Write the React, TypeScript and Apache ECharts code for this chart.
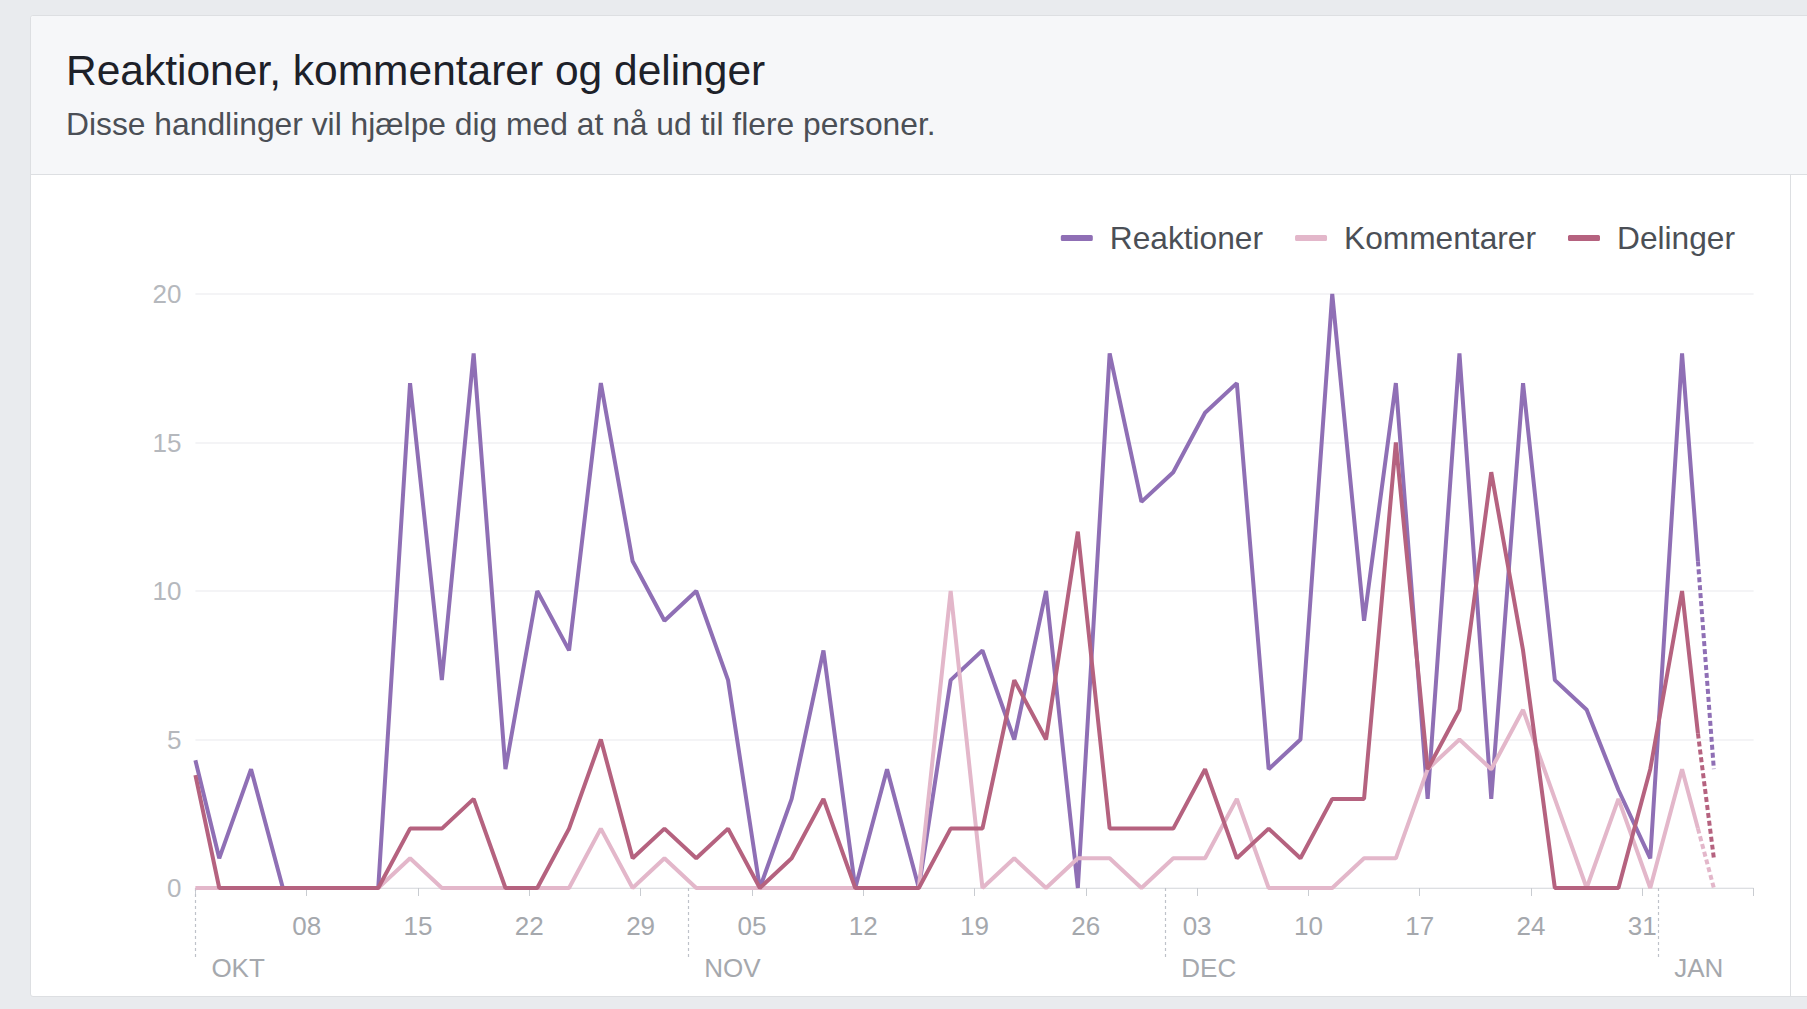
import React, { useEffect, useRef } from "react";
import * as echarts from "echarts";

// ---- data ----
const pointDates = [
  "2018-10-01T00:00:00Z", "2018-10-02T12:00:00Z", "2018-10-04T12:00:00Z", "2018-10-06T12:00:00Z",
  "2018-10-08T12:00:00Z", "2018-10-10T12:00:00Z", "2018-10-12T12:00:00Z", "2018-10-14T12:00:00Z",
  "2018-10-16T12:00:00Z", "2018-10-18T12:00:00Z", "2018-10-20T12:00:00Z", "2018-10-22T12:00:00Z",
  "2018-10-24T12:00:00Z", "2018-10-26T12:00:00Z", "2018-10-28T12:00:00Z", "2018-10-30T12:00:00Z",
  "2018-11-01T12:00:00Z", "2018-11-03T12:00:00Z", "2018-11-05T12:00:00Z", "2018-11-07T12:00:00Z",
  "2018-11-09T12:00:00Z", "2018-11-11T12:00:00Z", "2018-11-13T12:00:00Z", "2018-11-15T12:00:00Z",
  "2018-11-17T12:00:00Z", "2018-11-19T12:00:00Z", "2018-11-21T12:00:00Z", "2018-11-23T12:00:00Z",
  "2018-11-25T12:00:00Z", "2018-11-27T12:00:00Z", "2018-11-29T12:00:00Z", "2018-12-01T12:00:00Z",
  "2018-12-03T12:00:00Z", "2018-12-05T12:00:00Z", "2018-12-07T12:00:00Z", "2018-12-09T12:00:00Z",
  "2018-12-11T12:00:00Z", "2018-12-13T12:00:00Z", "2018-12-15T12:00:00Z", "2018-12-17T12:00:00Z",
  "2018-12-19T12:00:00Z", "2018-12-21T12:00:00Z", "2018-12-23T12:00:00Z", "2018-12-25T12:00:00Z",
  "2018-12-27T12:00:00Z", "2018-12-29T12:00:00Z", "2018-12-31T12:00:00Z", "2019-01-02T12:00:00Z",
  "2019-01-03T12:00:00Z",
];
const reaktioner = [
  4.3, 1, 4, 0, 0, 0, 0, 17, 7, 18, 4, 10, 8, 17, 11, 9, 10, 7, 0, 3, 8, 0, 4, 0,
  7, 8, 5, 10, 0, 18, 13, 14, 16, 17, 4, 5, 20, 9, 17, 3, 18, 3, 17, 7, 6, 3.3, 1, 18, 11,
];
const kommentarer = [
  0, 0, 0, 0, 0, 0, 0, 1, 0, 0, 0, 0, 0, 2, 0, 1, 0, 0, 0, 0, 0, 0, 0, 0,
  10, 0, 1, 0, 1, 1, 0, 1, 1, 3, 0, 0, 0, 1, 1, 4, 5, 4, 6, 3, 0, 3, 0, 4, 2,
];
const delinger = [
  3.8, 0, 0, 0, 0, 0, 0, 2, 2, 3, 0, 0, 2, 5, 1, 2, 1, 2, 0, 1, 3, 0, 0, 0,
  2, 2, 7, 5, 12, 2, 2, 2, 4, 1, 2, 1, 3, 3, 15, 4, 6, 14, 8, 0, 0, 0, 4, 10, 5.2,
];
// incomplete last period (drawn dashed)
const lastDates = ["2019-01-03T12:00:00Z", "2019-01-04T12:00:00Z"];
const reaktionerLast = [11, 4];
const kommentarerLast = [2, 0];
const delingerLast = [5.2, 1];

const seriesNames = ["Reaktioner", "Kommentarer", "Delinger"];
const monthStarts = ["2018-10-01T00:00:00Z", "2018-11-01T00:00:00Z", "2018-12-01T00:00:00Z", "2019-01-01T00:00:00Z"];
const monthNames = ["OKT", "NOV", "DEC", "JAN"];
const axisStart = "2018-10-01T00:00:00Z";
const axisEnd = "2019-01-07T00:00:00Z";

const TITLE = "Reaktioner, kommentarer og delinger";
const SUBTITLE = "Disse handlinger vil hjælpe dig med at nå ud til flere personer.";

const COLORS = ["#8f6fb5", "#e3b7ca", "#b5627f"];
const FONT = "'Liberation Sans', Arial, Helvetica, sans-serif";

const DAY = 86400000;
const origin = Date.parse(axisStart);
const toDay = (s: string) => (Date.parse(s) - origin) / DAY;

export default function App() {
  const ref = useRef<HTMLDivElement>(null);

  useEffect(() => {
    if (!ref.current) return;
    const chart = echarts.init(ref.current, null, { renderer: "svg" });
    const days = pointDates.map(toDay);
    const lastDays = lastDates.map(toDay);
    const monthDays = monthStarts.map(toDay);
    const maxDay = toDay(axisEnd);
    const pair = (xs: number[], ys: number[]) => xs.map((x, i) => [x, ys[i]]);

    const mainVals = [reaktioner, kommentarer, delinger];
    const lastVals = [reaktionerLast, kommentarerLast, delingerLast];

    const series: any[] = [];
    seriesNames.forEach((name, i) => {
      series.push({
        name,
        type: "line",
        data: pair(days, mainVals[i]),
        showSymbol: false,
        symbol: "none",
        silent: true,
        lineStyle: { color: COLORS[i], width: 4 },
        itemStyle: { color: COLORS[i] },
        emphasis: { disabled: true },
        z: 2 + i,
      });
      series.push({
        name,
        type: "line",
        data: pair(lastDays, lastVals[i]),
        showSymbol: false,
        symbol: "none",
        silent: true,
        lineStyle: { color: COLORS[i], width: 4, type: [5, 3] },
        itemStyle: { color: COLORS[i] },
        emphasis: { disabled: true },
        z: 2 + i,
      });
    });

    chart.setOption({
      animation: false,
      backgroundColor: "transparent",
      textStyle: { fontFamily: FONT },
      graphic: [
        {
          type: "text",
          x: 66,
          y: 70,
          style: { text: TITLE, fontSize: 42.5, fontFamily: FONT, fill: "#1d2129", verticalAlign: "middle" },
        },
        {
          type: "text",
          x: 66,
          y: 124,
          style: { text: SUBTITLE, fontSize: 31.8, fontFamily: FONT, fill: "#4b4f56", verticalAlign: "middle" },
        },
      ],
      legend: {
        data: seriesNames,
        right: 67,
        top: 217,
        icon: "roundRect",
        itemWidth: 32,
        itemHeight: 6,
        itemGap: 32,
        selectedMode: false,
        textStyle: { fontSize: 31.7, color: "#4b4f56", fontFamily: FONT, padding: [0, 0, 0, 12] },
      },
      grid: { left: 195.4, right: 53.4, top: 294, bottom: 121, containLabel: false },
      xAxis: [
        {
          type: "value",
          min: 0,
          max: maxDay,
          interval: 7,
          axisLine: { show: true, lineStyle: { color: "#dddfe2", width: 1 } },
          axisTick: { show: true, length: 8, lineStyle: { color: "#c9ccd1" } },
          splitLine: { show: false },
          axisLabel: {
            fontSize: 26,
            color: "#a5a8ad",
            margin: 25,
            fontFamily: FONT,
            formatter: (v: number) => {
              if (v <= 0 || v >= maxDay) return "";
              const d = new Date(origin + v * DAY);
              return String(d.getUTCDate()).padStart(2, "0");
            },
          },
        },
        {
          type: "value",
          min: 0,
          max: maxDay,
          position: "bottom",
          axisLine: { show: false },
          splitLine: { show: false },
          axisTick: {
            show: true,
            customValues: monthDays,
            length: 70,
            lineStyle: { color: "#bec2c9", width: 1.2, type: [3, 3] },
          },
          axisLabel: {
            customValues: monthDays,
            fontSize: 26,
            color: "#a5a8ad",
            margin: 67,
            align: "left",
            padding: [0, 0, 0, 16],
            fontFamily: FONT,
            formatter: (v: number) => {
              const idx = monthDays.indexOf(v);
              return idx >= 0 ? monthNames[idx] : "";
            },
          },
        },
      ],
      yAxis: {
        type: "value",
        min: 0,
        max: 20,
        interval: 5,
        axisLine: { show: false },
        axisTick: { show: false },
        axisLabel: { fontSize: 26, color: "#b5b8bd", margin: 14, fontFamily: FONT },
        splitLine: { lineStyle: { color: "#f0f1f3", width: 1.5 } },
      },
      series,
    });

    return () => chart.dispose();
  }, []);

  return (
    <div style={{ position: "fixed", left: 0, top: 0, width: 1807, height: 1009, background: "#e9ebee", overflow: "hidden" }}>
      <div
        style={{
          position: "absolute",
          left: 30,
          top: 15,
          width: 1800,
          height: 982,
          background: "#ffffff",
          border: "1px solid #dddfe2",
          borderRadius: 3,
          boxSizing: "border-box",
        }}
      />
      <div
        style={{
          position: "absolute",
          left: 31,
          top: 16,
          width: 1800,
          height: 158,
          background: "#f6f7f9",
          borderBottom: "1px solid #dddfe2",
          borderTopLeftRadius: 3,
        }}
      />
      <div style={{ position: "absolute", left: 1790, top: 175, width: 1, height: 822, background: "#dddfe2" }} />
      <div ref={ref} style={{ position: "absolute", left: 0, top: 0, width: 1807, height: 1009 }} />
    </div>
  );
}
